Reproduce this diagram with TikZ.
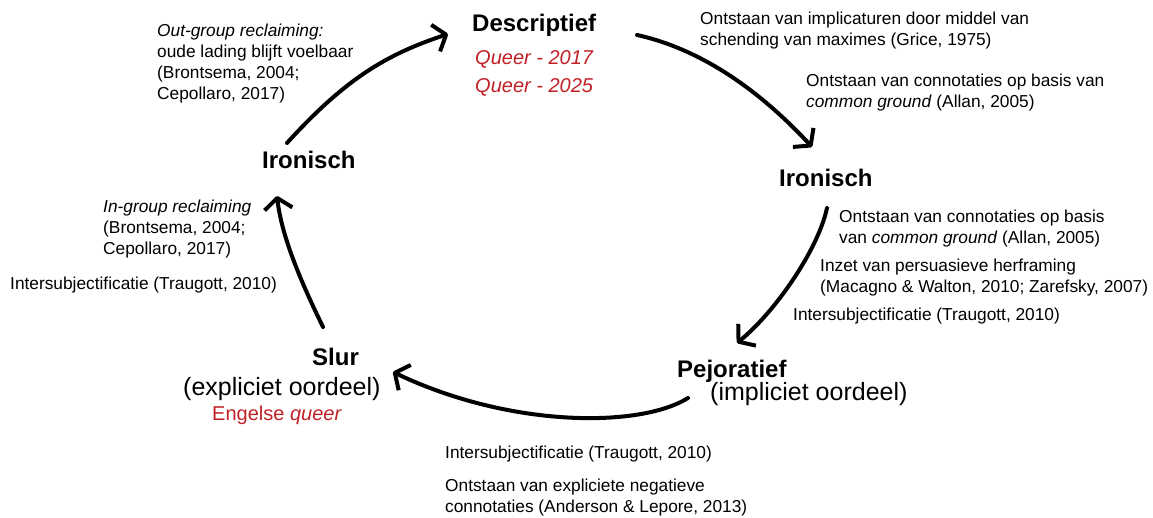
\documentclass[tikz,border=0pt]{standalone}
\usepackage{fontspec}
\setmainfont{Liberation Sans}
\usetikzlibrary{arrows.meta}
\definecolor{qred}{RGB}{192,32,38}
\begin{document}
\begin{tikzpicture}[x=1pt,y=-1pt,
  small/.style={font=\fontsize{17.3}{21}\selectfont, inner sep=0pt, align=left, anchor=base west},
  title/.style={font=\fontsize{24}{28}\selectfont\bfseries, inner sep=0pt, anchor=base west},
  paren/.style={font=\fontsize{25}{28}\selectfont, inner sep=0pt, anchor=base west},
  redtxt/.style={font=\fontsize{20}{28}\selectfont, text=qred, inner sep=0pt, anchor=base west},
  cyc/.style={line width=4pt, line cap=round, -{Straight Barb[length=11pt,width=28pt,line join=round]}}
]
\useasboundingbox (0,0) rectangle (1153,518);

% (multi-line nodes are placed by the baseline of their last line)

% top: Descriptief
\node[title] (desc) at (472,32) {Descriptief};
\node[redtxt] (q17) at (475,65) {\itshape Queer - 2017};
\node[redtxt] (q25) at (475,93) {\itshape Queer - 2025};

% top right annotations
\node[small] (grice) at (700,46) {Ontstaan van implicaturen door middel van\\schending van maximes (Grice, 1975)};
\node[small] (cga) at (806,108) {Ontstaan van connotaties op basis van\\\textit{common ground} (Allan, 2005)};

% right: Ironisch
\node[title] (ironR) at (779,187) {Ironisch};
\node[small] (cgb) at (839,244) {Ontstaan van connotaties op basis\\van \textit{common ground} (Allan, 2005)};
\node[small] (inzet) at (820,293) {Inzet van persuasieve herframing\\(Macagno \& Walton, 2010; Zarefsky, 2007)};
\node[small] (intera) at (793,321) {Intersubjectificatie (Traugott, 2010)};

% bottom right: Pejoratief
\node[title] (pej) at (677,377) {Pejoratief};
\node[paren] (impl) at (710,400) {(impliciet oordeel)};

% bottom annotations
\node[small] (interb) at (445,458) {Intersubjectificatie (Traugott, 2010)};
\node[small] (anders) at (445,512) {Ontstaan van expliciete negatieve\\connotaties (Anderson \& Lepore, 2013)};

% left bottom: Slur
\node[title] (slur) at (312,365) {Slur};
\node[paren] (expl) at (183,395) {(expliciet oordeel)};
\node[redtxt] (eng) at (212,420) {Engelse \textit{queer}};

% left annotations
\node[small] (ingroup) at (103,255) {\textit{In-group reclaiming}\\(Brontsema, 2004;\\Cepollaro, 2017)};
\node[small] (interc) at (10,290) {Intersubjectificatie (Traugott, 2010)};

% left: Ironisch
\node[title] (ironL) at (262,169) {Ironisch};
\node[small] (outgroup) at (157,100) {\textit{Out-group reclaiming:}\\oude lading blijft voelbaar\\(Brontsema, 2004;\\Cepollaro, 2017)};

% connector end points
\coordinate (a1s) at (287,143);
\coordinate (a1e) at (448,34);
\coordinate (a2s) at (637,35);
\coordinate (a2e) at (812,147);
\coordinate (a3s) at (827,208);
\coordinate (a3e) at (737,343);
\coordinate (a4s) at (688,398);
\coordinate (a4e) at (393,372);
\coordinate (a5s) at (323,327);
\coordinate (a5e) at (277,196);

\draw[cyc] (a1s) .. controls (347,77) and (388,54) .. (a1e);
\draw[cyc] (a2s) .. controls (705,50) and (764,95) .. (a2e);
\draw[cyc] (a3s) .. controls (818,250) and (775,312) .. (a3e);
\draw[cyc] (a4s) .. controls (640,428) and (510,428) .. (a4e);
\draw[cyc] (a5s) .. controls (305,290) and (282,240) .. (a5e);
\end{tikzpicture}
\end{document}
